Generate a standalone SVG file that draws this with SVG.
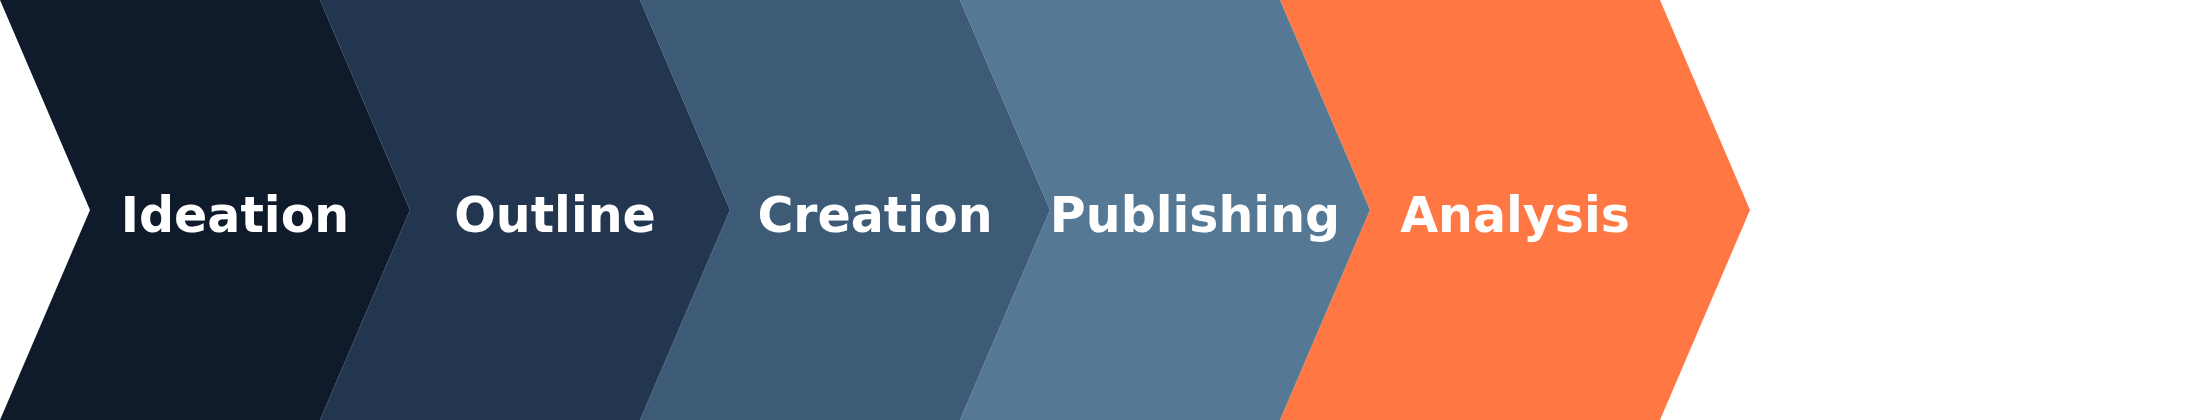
<svg xmlns="http://www.w3.org/2000/svg" width="2200" height="420" viewBox="0 0 2200 420">
<style>
.lbl{font-family:"DejaVu Sans",sans-serif;font-weight:bold;font-size:49px;fill:#ffffff;text-anchor:middle}
</style>
<rect width="2200" height="420" fill="#ffffff"/>
<g id="analysis"><polygon points="1280,0 1660,0 1750,210 1660,420 1280,420 1370,210" fill="#ff7844"/><text class="lbl" x="1515" y="232">Analysis</text></g>
<g id="publishing"><polygon points="960,0 1280,0 1370,210 1280,420 960,420 1050,210" fill="#557995"/><text class="lbl" x="1195" y="232">Publishing</text></g>
<g id="creation"><polygon points="640,0 960,0 1050,210 960,420 640,420 730,210" fill="#3d5a77"/><text class="lbl" x="875" y="232">Creation</text></g>
<g id="outline"><polygon points="320,0 640,0 730,210 640,420 320,420 410,210" fill="#22374f"/><text class="lbl" x="555" y="232">Outline</text></g>
<g id="ideation"><polygon points="0,0 320,0 410,210 320,420 0,420 90,210" fill="#0f1b2b"/><text class="lbl" x="235" y="232">Ideation</text></g>
<g id="connectors"></g>
</svg>
